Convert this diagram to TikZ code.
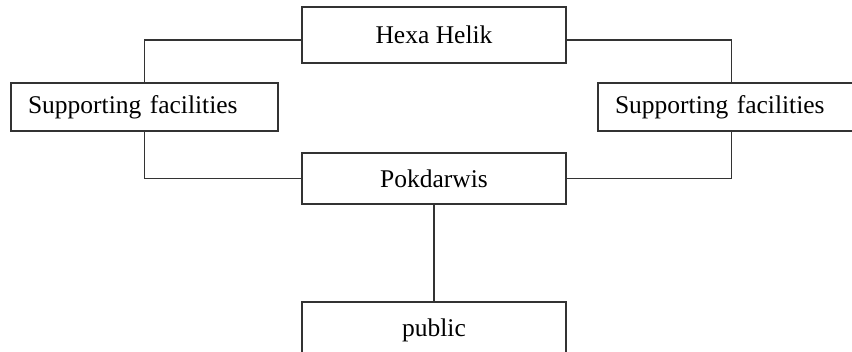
\documentclass[tikz,border=0pt]{standalone}
\usepackage{fontspec}
\setmainfont{Liberation Serif}
\begin{document}
\begin{tikzpicture}[x=1pt,y=-1pt,
  box/.style={draw=black!80,line width=1.3pt,fill=white,inner sep=0pt,
    font=\fontsize{25.5}{30}\selectfont},
  sidebox/.style={box,minimum height=48pt,text width=233pt,inner xsep=17pt,align=left},
  link/.style={draw=black!80,line width=1.3pt}]
\useasboundingbox (0,0) rectangle (852,351);
\clip (0,0) rectangle (852,351);
\node[box,minimum width=264pt,minimum height=56pt] (hexa) at (434,35) {Hexa Helik};
\node[sidebox] (left) at (144.5,107) {Supporting facilities};
\node[sidebox] (right) at (731.5,107) {Supporting facilities};
\node[box,minimum width=264pt,minimum height=51pt] (pok) at (434,178.5) {Pokdarwis};
\node[box,minimum width=264pt,minimum height=56pt] (pub) at (434,330) {public};
\draw[link] ([yshift=-5pt]hexa.west) -| (left.north);
\draw[link] (left.south) |- (pok.west);
\draw[link] ([yshift=-5pt]hexa.east) -| (right.north);
\draw[link] (right.south) |- (pok.east);
\draw[link] (pok.south) -- (pub.north);
\end{tikzpicture}
\end{document}
